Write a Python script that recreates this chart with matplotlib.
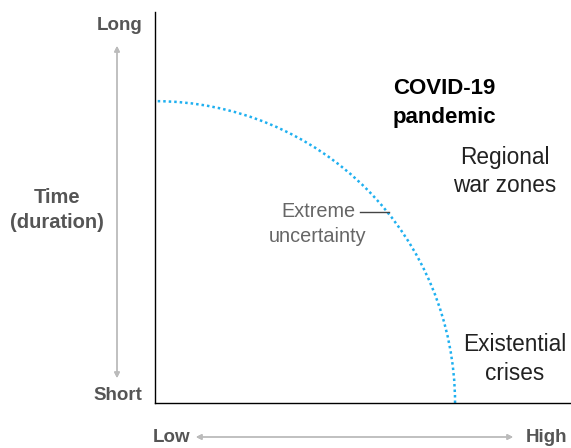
import matplotlib.pyplot as plt
from matplotlib.patches import Arc

plt.rcParams['font.family'] = ['Liberation Sans', 'DejaVu Sans']

# frontier of extreme uncertainty (fraction of axis)
frontier_x = 0.723
frontier_y = 0.772

y_ends = ["Long", "Short"]
x_ends = ["Low", "High"]
y_title = "Time\n(duration)"
inside_label = "Extreme\nuncertainty"
events = ["COVID-19\npandemic", "Regional\nwar zones", "Existential\ncrises"]

W, H = 571, 448
fig = plt.figure(figsize=(W / 100, H / 100), dpi=100)
ax = fig.add_axes([155 / W, 45 / H, 415 / W, 391 / H])
ax.set_xlim(0, 1)
ax.set_ylim(0, 1)
ax.set_xticks([])
ax.set_yticks([])
for s in ['top', 'right']:
    ax.spines[s].set_visible(False)
for s in ['left', 'bottom']:
    ax.spines[s].set_linewidth(1.0)
    ax.spines[s].set_color('black')

arc = Arc((0, 0), 2 * frontier_x, 2 * frontier_y, theta1=0, theta2=90,
          color='#1fb0f0', lw=1.8, linestyle=(0, (1, 1.2)))
ax.add_patch(arc)


def px(x, y):
    return (x / W, 1 - y / H)


grey = '#555555'
fig.text(*px(142, 26), y_ends[0], ha='right', va='center', fontsize=13.5,
         fontweight='bold', color=grey)
fig.text(*px(142, 395), y_ends[1], ha='right', va='center', fontsize=13.5,
         fontweight='bold', color=grey)
fig.text(*px(57, 210), y_title, ha='center', va='center', fontsize=14.5,
         fontweight='bold', color=grey, linespacing=1.38)
fig.text(*px(153, 437), x_ends[0], ha='left', va='center', fontsize=13.5,
         fontweight='bold', color=grey)
fig.text(*px(567, 437), x_ends[1], ha='right', va='center', fontsize=13.5,
         fontweight='bold', color=grey)

arrow = dict(arrowstyle='<|-|>', color='#bbbbbb', lw=1.0,
             mutation_scale=8, shrinkA=0, shrinkB=0)
fig.add_artist(plt.annotate('', xy=px(117, 46), xytext=px(117, 378),
                            xycoords='figure fraction', arrowprops=arrow))
fig.add_artist(plt.annotate('', xy=px(196, 437), xytext=px(513, 437),
                            xycoords='figure fraction', arrowprops=arrow))

fig.text(*px(393, 103), events[0], ha='left', va='center', fontsize=16,
         fontweight='bold', color='black', linespacing=1.5,
         multialignment='left')
fig.text(*px(505, 171.5), events[1], ha='center', va='center', fontsize=16.3,
         color='#222222', linespacing=1.32)
fig.text(*px(515, 359), events[2], ha='center', va='center', fontsize=16.3,
         color='#222222', linespacing=1.3)
fig.text(*px(318, 224), inside_label, ha='center', va='center', fontsize=14.3,
         color='#666666', linespacing=1.4)
fig.add_artist(plt.Line2D([360 / W, 389 / W], [1 - 212 / H, 1 - 212 / H],
                          color='#444444', lw=1.0))

fig.savefig('out.png', dpi=100)
